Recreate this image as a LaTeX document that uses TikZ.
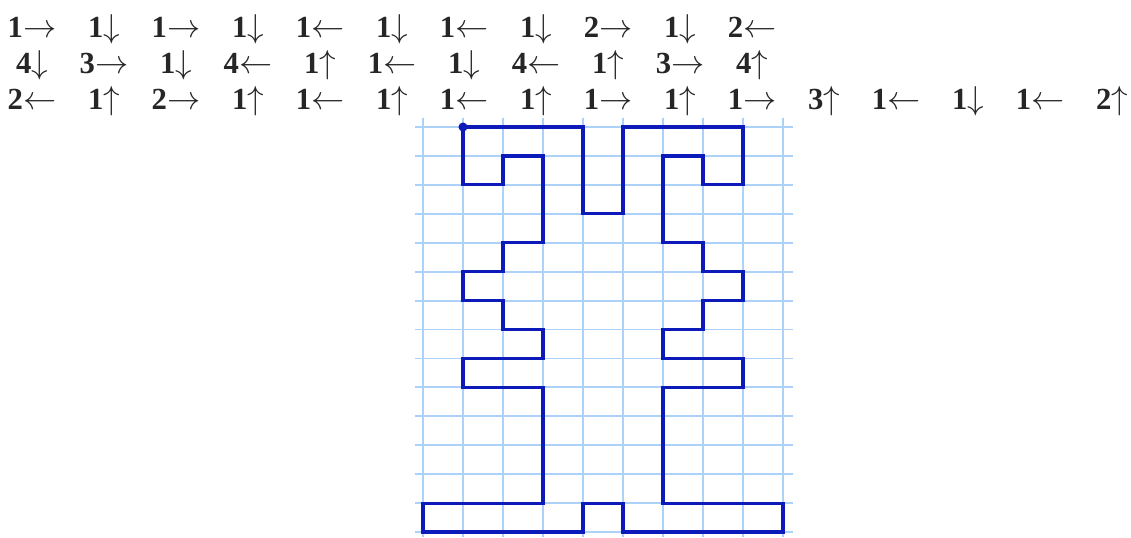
\documentclass[tikz,border=0pt]{standalone}
\usepackage{fontspec}
\setmainfont{Liberation Serif}
\usepackage{tikz}
\usetikzlibrary{positioning}
\definecolor{gridblue}{RGB}{172,210,250}
\definecolor{routeblue}{RGB}{12,26,185}
\definecolor{movegray}{RGB}{38,38,38}
\newcommand{\goR}{$\rightarrow$}
\newcommand{\goL}{$\leftarrow$}
\newcommand{\goU}{$\uparrow$}
\newcommand{\goD}{$\downarrow$}
\tikzset{move/.style={anchor=base, inner sep=0pt, text=movegray, font=\fontsize{23}{23}\selectfont\bfseries}}
\tikzset{gridline/.style={draw=gridblue, line width=1.4pt}}
\tikzset{route/.style={draw=routeblue, line width=2.4pt, line join=miter}}

\begin{document}
\begin{tikzpicture}[x=0.75pt, y=-0.75pt]
    \useasboundingbox (0,0) rectangle (1131,537);

    % the moves, three rows
    \foreach \t [count=\i from 0] in {1\goR,1\goD,1\goR,1\goD,1\goL,1\goD,1\goL,1\goD,2\goR,1\goD,2\goL}
        \node[move] (ra\i) at (32+72*\i, 37) {\t};
    \foreach \t [count=\i from 0] in {4\goD,3\goR,1\goD,4\goL,1\goU,1\goL,1\goD,4\goL,1\goU,3\goR,4\goU}
        \node[move] (rb\i) at (32+72*\i, 73) {\t};
    \foreach \t [count=\i from 0] in {2\goL,1\goU,2\goR,1\goU,1\goL,1\goU,1\goL,1\goU,1\goR,1\goU,1\goR,3\goU,1\goL,1\goD,1\goL,2\goU}
        \node[move] (rc\i) at (32+72*\i, 109) {\t};

    % squared paper
    \foreach \k in {0,...,9}
        \draw[gridline] (423+40*\k, 118) -- (423+40*\k, 537);
    \foreach \k in {0,...,14}
        \draw[gridline] (415, 127+28.93*\k) -- (793, 127+28.93*\k);

    % the figure
    \begin{scope}[shift={(423,127)}, x=30pt, y=-21.7pt]
        \draw[route] (1,0) -- (4,0) -- (4,3) -- (5,3) -- (5,0) -- (8,0) -- (8,2) -- (7,2)
            -- (7,1) -- (6,1) -- (6,4) -- (7,4) -- (7,5) -- (8,5) -- (8,6) -- (7,6)
            -- (7,7) -- (6,7) -- (6,8) -- (8,8) -- (8,9) -- (6,9) -- (6,13) -- (9,13)
            -- (9,14) -- (5,14) -- (5,13) -- (4,13) -- (4,14) -- (0,14) -- (0,13) -- (3,13)
            -- (3,9) -- (1,9) -- (1,8) -- (3,8) -- (3,7) -- (2,7) -- (2,6) -- (1,6)
            -- (1,5) -- (2,5) -- (2,4) -- (3,4) -- (3,1) -- (2,1) -- (2,2) -- (1,2) -- cycle;
        \fill[routeblue] (1,0) circle (3.4pt);
    \end{scope}
\end{tikzpicture}
\end{document}
